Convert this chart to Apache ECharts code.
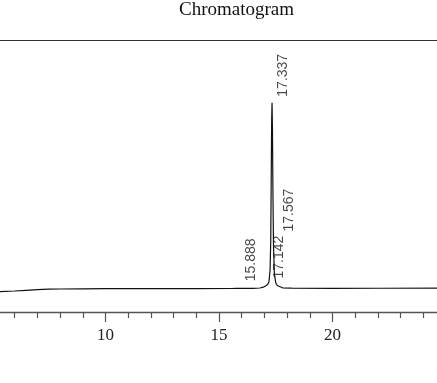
<!DOCTYPE html>
<html>
<head>
<meta charset="utf-8">
<script src="https://cdn.jsdelivr.net/npm/echarts@6/dist/echarts.min.js"></script>
<style>
html,body{margin:0;padding:0;background:#fff;overflow:hidden;width:437px;height:383px;position:relative;}
#chart{position:absolute;left:-8px;top:0;width:454px;height:383px;}
</style>
</head>
<body>
<div id="chart"></div>
<script>
// Retention time (min) and detector signal (arbitrary units)
const times = [5.0, 5.35, 6.0, 6.5, 7.0, 7.5, 8.0, 9.0, 10.0, 12.0, 14.0, 15.5, 15.8, 15.888, 15.98, 16.5, 16.8, 16.95, 17.05, 17.142, 17.2, 17.25, 17.28, 17.30, 17.32, 17.337, 17.355, 17.375, 17.40, 17.44, 17.50, 17.567, 17.65, 17.8, 18.2, 20.0, 22.0, 25.0];
const signal = [7.35, 7.46, 7.72, 7.98, 8.24, 8.38, 8.46, 8.53, 8.57, 8.60, 8.62, 8.64, 8.66, 9.08, 8.66, 8.71, 8.82, 9.12, 9.56, 10.11, 11.03, 15.44, 26.47, 48.53, 70.59, 76.95, 66.91, 44.85, 24.63, 13.97, 10.66, 9.74, 9.19, 8.90, 8.75, 8.71, 8.73, 8.75];

// Labelled peaks
const peakTimes = [15.888, 17.142, 17.337, 17.567];
const peakHeights = [9.08, 10.11, 76.95, 9.74];

const titleText = 'Chromatogram';
const xTickInterval = 5;

const chart = echarts.init(document.getElementById('chart'), null, {renderer: 'canvas'});

const lineData = times.map((t, i) => [t, signal[i]]);
const extraLift = {3: 48};
const peakData = peakTimes.map((t, i) => ({
  value: [t, peakHeights[i]],
  label: { offset: [6 + (extraLift[i] || 0), 11.5] }
}));

const axisColor = '#555';
const option = {
  animation: false,
  backgroundColor: '#fff',
  title: {
    text: titleText,
    left: 187,
    top: 1,
    padding: 0,
    textStyle: { fontFamily: 'Liberation Serif', fontSize: 19, fontWeight: 'normal', color: '#111' }
  },
  grid: { left: 0, right: 0, top: 40, bottom: 71, containLabel: false, outerBoundsMode: 'none' },
  xAxis: [{
    type: 'value',
    position: 'bottom',
    min: 5, max: 25, interval: xTickInterval,
    axisLine: { show: true, onZero: false, lineStyle: { color: axisColor, width: 1.3 } },
    axisTick: { show: true, length: 10, lineStyle: { color: axisColor, width: 1.2 } },
    minorTick: { show: true, splitNumber: 5, length: 6, lineStyle: { color: axisColor, width: 1.2 } },
    splitLine: { show: false },
    minorSplitLine: { show: false },
    axisLabel: { margin: 15, fontFamily: 'Liberation Serif', fontSize: 17, color: '#222' }
  }, {
    type: 'value',
    position: 'top',
    min: 5, max: 25,
    axisLine: { show: true, onZero: false, lineStyle: { color: '#333', width: 1.2 } },
    axisTick: { show: false },
    axisLabel: { show: false },
    splitLine: { show: false }
  }],
  yAxis: { type: 'value', min: 0, max: 100, show: false, splitLine: { show: false } },
  series: [{
    type: 'line',
    data: lineData,
    showSymbol: false,
    symbol: 'none',
    smooth: false,
    lineStyle: { color: '#111', width: 1.2 },
    clip: true,
    z: 3
  }, {
    type: 'scatter',
    data: peakData,
    symbolSize: 0,
    silent: true,
    z: 4,
    label: {
      show: true,
      position: [0, 0],
      rotate: 90,
      align: 'left',
      verticalAlign: 'middle',
      formatter: p => p.value[0].toFixed(3),
      fontFamily: 'Liberation Sans',
      fontSize: 14,
      color: '#1a1a1a'
    }
  }]
};
chart.setOption(option);
</script>
</body>
</html>
